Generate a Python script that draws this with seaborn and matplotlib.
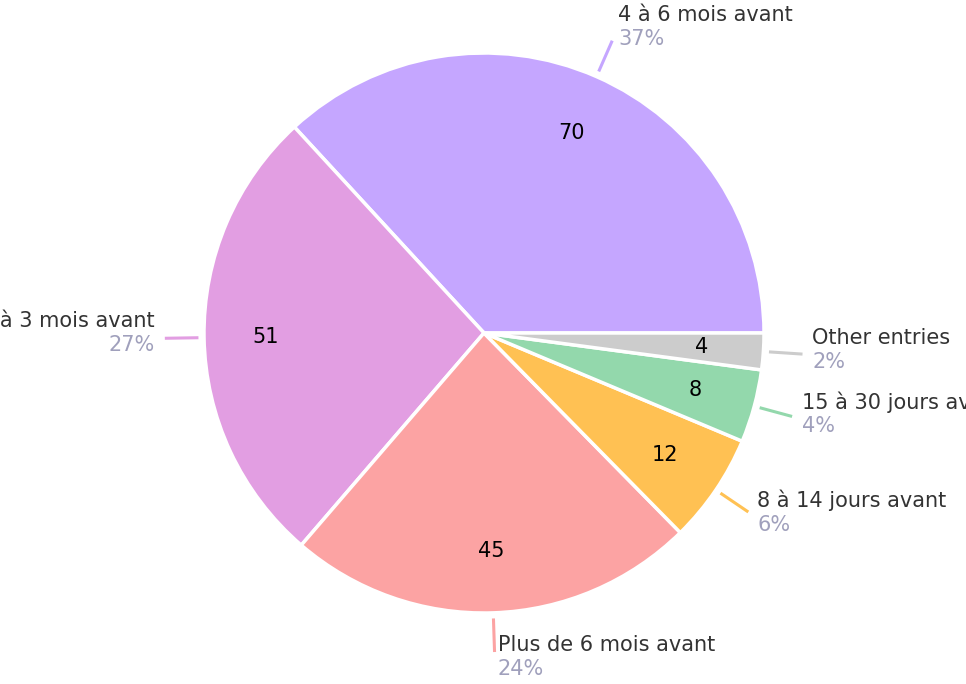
import matplotlib
matplotlib.use("Agg")
import matplotlib.pyplot as plt
import numpy as np
import seaborn as sns

# chart data
categories = ["4 à 6 mois avant", "1 à 3 mois avant", "Plus de 6 mois avant",
              "8 à 14 jours avant", "15 à 30 jours avant", "Other entries"]
values = [70, 51, 45, 12, 8, 4]
colors = ["#C5A6FF", "#E29EE2", "#FCA3A3", "#FFC153", "#93D8AC", "#CCCCCC"]

sns.set_theme(style="white")
plt.rcParams["font.family"] = ["DejaVu Sans"]

W, H = 966, 684
cx, cy, R = 484, 333, 280  # pixel centre and radius of the pie
fig = plt.figure(figsize=(W / 100, H / 100), dpi=100)
ax = fig.add_axes([0, 0, 1, 1])

palette = sns.color_palette(colors)
total = sum(values)
wedges, _, autotexts = ax.pie(
    values,
    colors=palette,
    startangle=0,
    counterclock=True,
    autopct=lambda p: f"{round(p * total / 100):d}",
    pctdistance=0.78,
    wedgeprops=dict(edgecolor="white", linewidth=2.5),
    textprops=dict(fontsize=15, color="black"),
)

ax.set_aspect("auto")
ax.set_xlim(-cx / R, (W - cx) / R)
ax.set_ylim(-(H - cy) / R, cy / R)
ax.axis("off")

px = 1.0 / R
for w, name, val, col in zip(wedges, categories, values, colors):
    ang = np.deg2rad((w.theta1 + w.theta2) / 2)
    c, s = np.cos(ang), np.sin(ang)
    # leader line
    ax.plot([1.02 * c, 1.14 * c], [1.02 * s, 1.14 * s], color=col, lw=2.2,
            solid_capstyle="butt")
    ex, ey = 1.14 * c, 1.14 * s
    side = 1 if c >= 0 else -1
    ha = "left" if side > 0 else "right"
    tx = ex + side * (3 + 7 * abs(c)) * px
    pct = round(100 * val / total)
    ax.text(tx, ey + (17 + 10 * s) * px, name, ha=ha, va="center",
            fontsize=15, color="#333333")
    ax.text(tx, ey + (-7 + 10 * s) * px, f"{pct}%", ha=ha, va="center",
            fontsize=15, color="#A0A0BC")

fig.savefig("out.png", dpi=100)
